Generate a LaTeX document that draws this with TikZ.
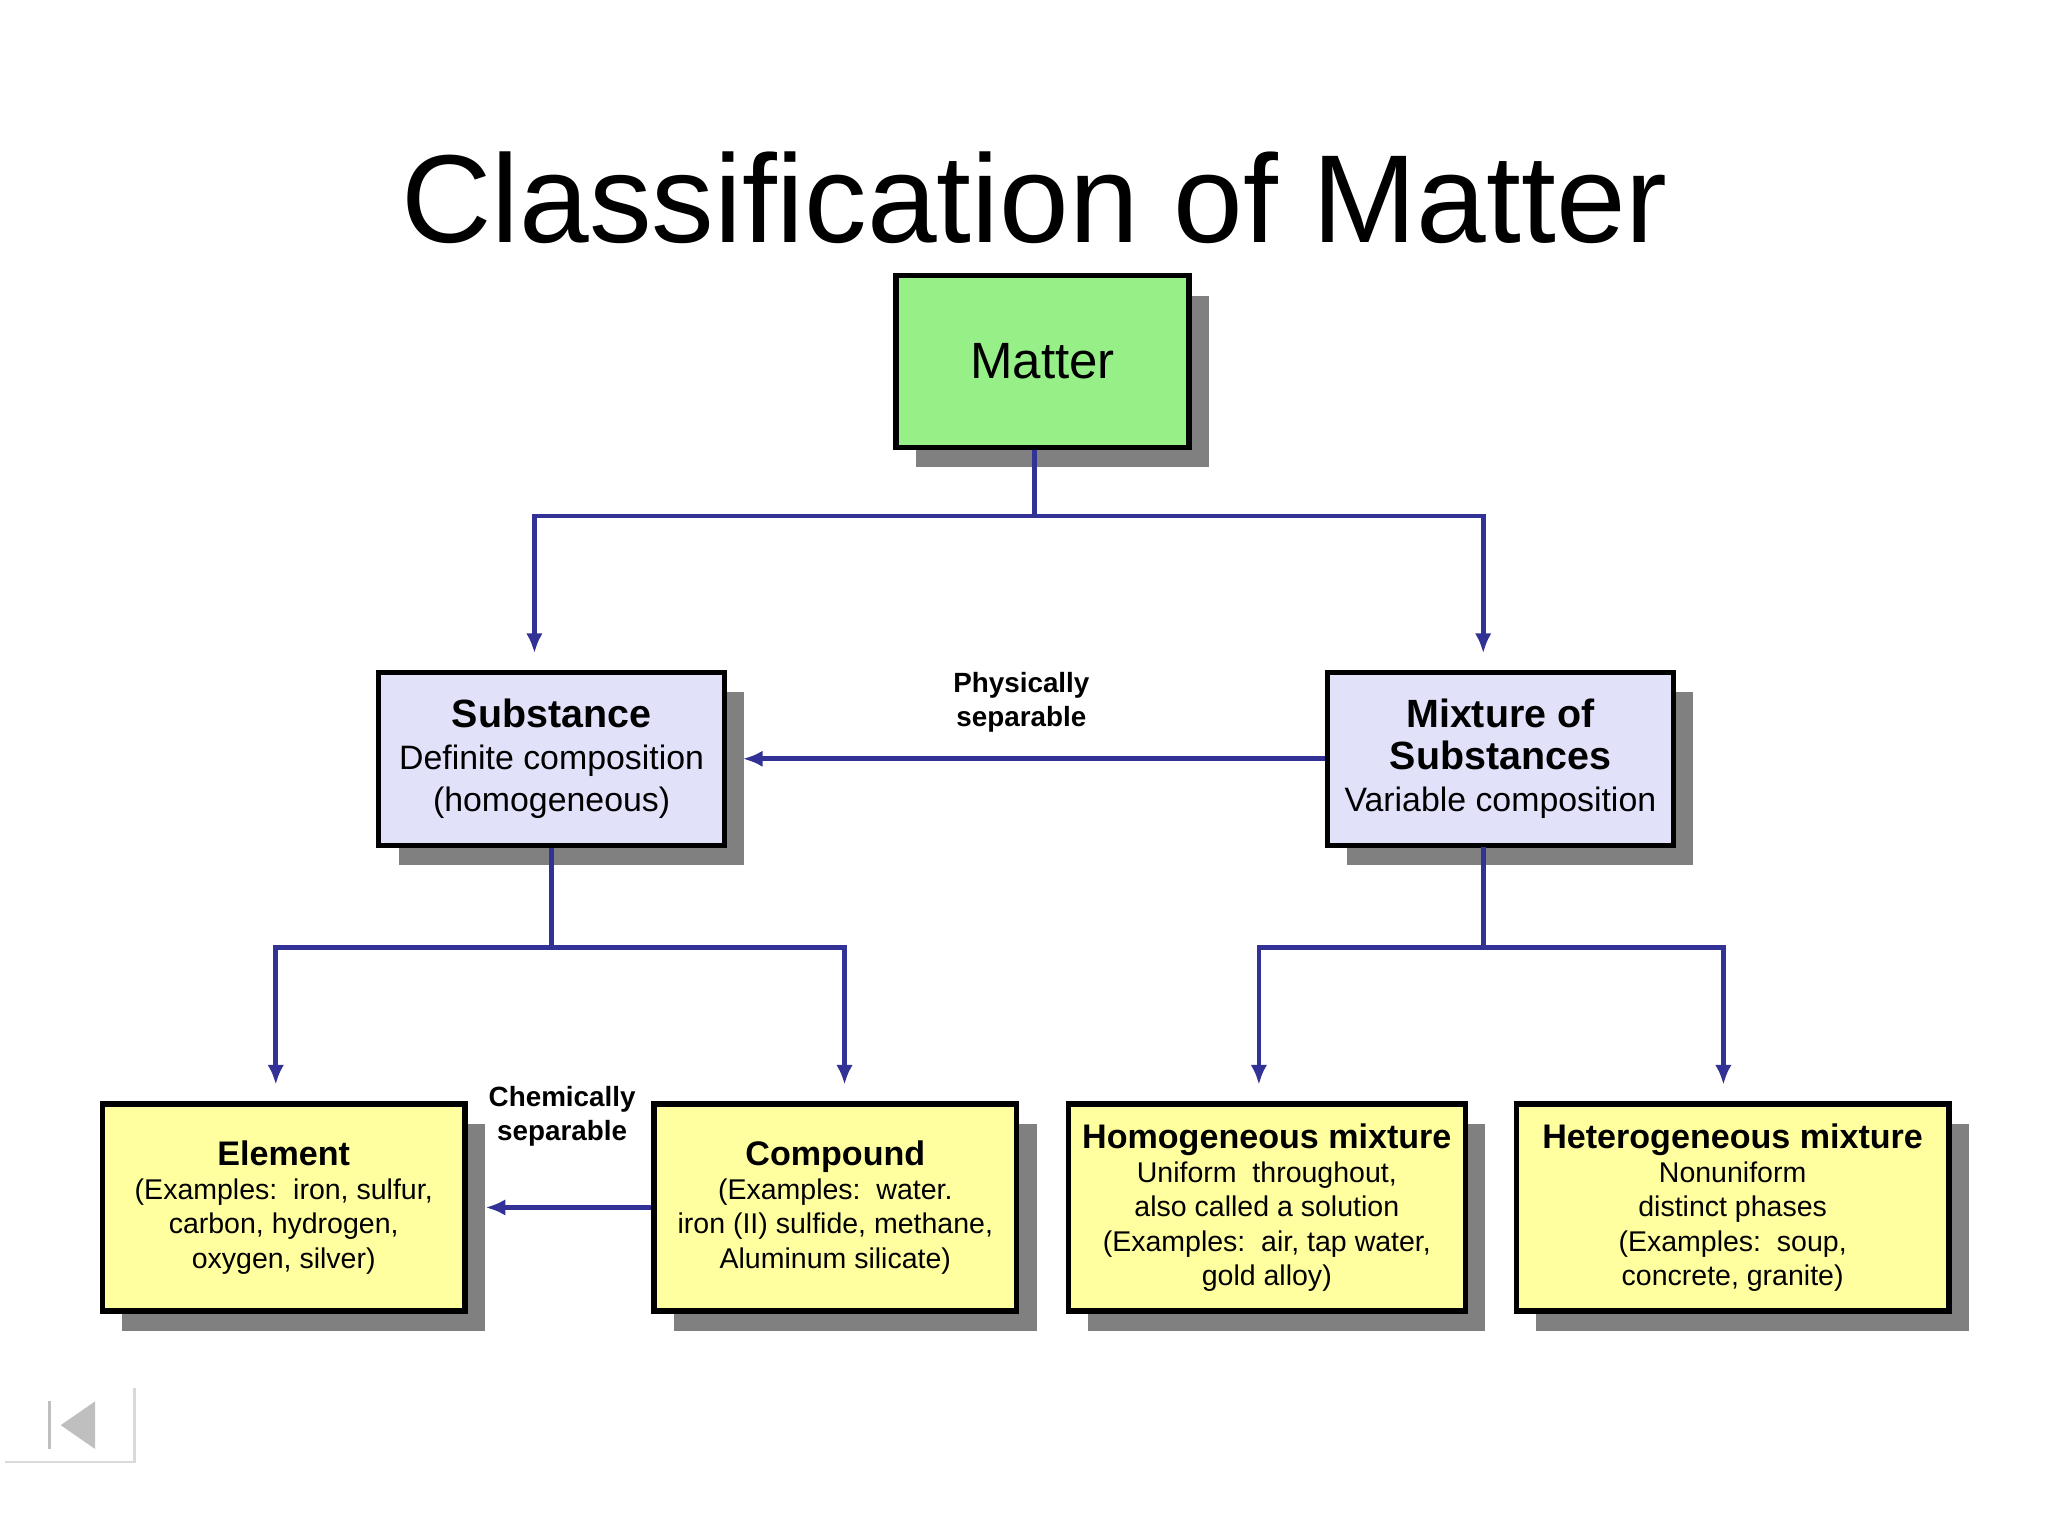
\documentclass[tikz,border=0pt]{standalone}
\usepackage{fontspec}
\setmainfont{Liberation Sans}
\usetikzlibrary{shadows,arrows.meta}
\definecolor{ln}{RGB}{50,50,150}
\definecolor{sh}{RGB}{128,128,128}
\definecolor{gr}{RGB}{150,240,135}
\definecolor{lv}{RGB}{225,225,250}
\definecolor{yl}{RGB}{255,255,160}
\begin{document}
\begin{tikzpicture}[x=0.02cm,y=-0.02cm,
 box/.style={draw=black,line width=0.08cm,align=center,inner sep=0pt,
   drop shadow={shadow xshift=0.3cm,shadow yshift=-0.3cm,fill=sh,opacity=1}},
 con/.style={draw=ln,line width=0.07cm},
 arr/.style={con,-{Latex[length=0.3cm,width=0.25cm]}},
 lab/.style={font=\fontsize{12}{14.5}\selectfont\bfseries,align=center}]
\useasboundingbox (0,0) rectangle (1552,1164);
\node at (784,150) {\fontsize{54}{60}\selectfont Classification of Matter};
\node[box,fill=gr,minimum width=4.44cm,minimum height=2.6cm,font=\fontsize{22}{26}\selectfont] (m) at (790,274) {Matter};
\node[box,fill=lv,minimum width=5.24cm,minimum height=2.62cm,font=\fontsize{14.6}{18}\selectfont] (s) at (418,575)
 {{\fontsize{17}{20}\selectfont\bfseries Substance}\\Definite composition\\(homogeneous)};
\node[box,fill=lv,minimum width=5.24cm,minimum height=2.62cm,font=\fontsize{14.6}{18}\selectfont] (x) at (1137,575)
 {{\fontsize{17}{20}\selectfont\bfseries Mixture of}\\{\fontsize{17}{20}\selectfont\bfseries Substances}\\Variable composition};
\node[box,fill=yl,minimum width=5.5cm,minimum height=3.14cm,font=\fontsize{12.3}{14.8}\selectfont] (e) at (215,915)
 {{\fontsize{14.7}{17.5}\selectfont\bfseries Element}\\(Examples:\ \ iron, sulfur,\\carbon, hydrogen,\\oxygen, silver)};
\node[box,fill=yl,minimum width=5.5cm,minimum height=3.14cm,font=\fontsize{12.3}{14.8}\selectfont] (c) at (633,915)
 {{\fontsize{14.7}{17.5}\selectfont\bfseries Compound}\\(Examples:\ \ water.\\iron (II) sulfide, methane,\\Aluminum silicate)};
\node[box,fill=yl,minimum width=6.02cm,minimum height=3.14cm,font=\fontsize{12.3}{14.8}\selectfont] (h) at (960,915)
 {{\fontsize{14.7}{17.5}\selectfont\bfseries Homogeneous mixture}\\Uniform\ \ throughout,\\also called a solution\\(Examples:\ \ air, tap water,\\gold alloy)};
\node[box,fill=yl,minimum width=6.56cm,minimum height=3.14cm,font=\fontsize{12.3}{14.8}\selectfont] (t) at (1313,915)
 {{\fontsize{14.7}{17.5}\selectfont\bfseries Heterogeneous mixture}\\Nonuniform\\distinct phases\\(Examples:\ \ soup,\\concrete, granite)};
\coordinate (j1) at (784,391);
\coordinate (j2) at (418,718);
\coordinate (j3) at (1124,718);
\coordinate (mb) at (784,341);
\coordinate (xb) at (1124,642);
\coordinate (ea) at (368,915);
\coordinate (sa) at (563,575);
\draw[con] (mb) -- (j1);
\draw[arr] (j1) -| (405,495);
\draw[arr] (j1) -| (1124,495);
\draw[con] (s.south) -- (j2);
\draw[arr] (j2) -| (209,822);
\draw[arr] (j2) -| (640,822);
\draw[con] (xb) -- (j3);
\draw[arr] (j3) -| (954,822);
\draw[arr] (j3) -| (1306,822);
\draw[arr] (x.west) -- (sa);
\draw[arr] (c.west) -- (ea);
\node[lab] at (774,532) {Physically\\separable};
\node[lab] at (426,846) {Chemically\\separable};
\fill[black!25] (36,1062) rectangle (39,1098);
\fill[black!25] (46,1080) -- (72,1062) -- (72,1098) -- cycle;
\draw[black!15,line width=0.04cm] (4,1108) -- (102,1108) -- (102,1052);
\end{tikzpicture}
\end{document}
